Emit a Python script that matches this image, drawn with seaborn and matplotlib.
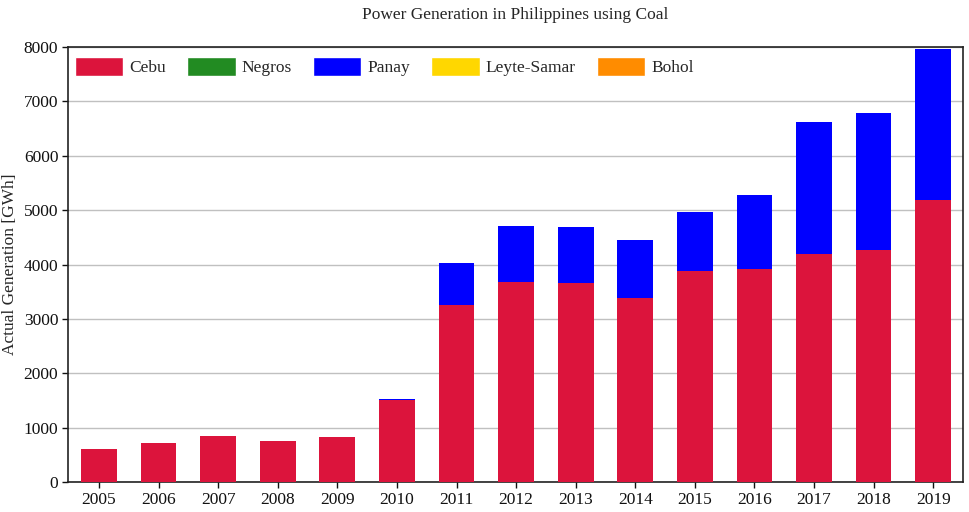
"""Stacked bar chart of coal power generation in the Philippines by grid."""

import matplotlib.pyplot as plt
import pandas as pd
import seaborn as sns
from matplotlib.patches import Patch

YEARS = [str(y) for y in range(2005, 2020)]
CEBU = [605, 717, 846, 754, 828, 1515, 3260, 3684, 3666, 3378, 3873, 3923, 4189, 4263, 5189]
NEGROS = [0] * 15
PANAY = [0, 0, 0, 0, 0, 15, 765, 1020, 1018, 1068, 1087, 1349, 2434, 2526, 2771]
LEYTE_SAMAR = [0] * 15
BOHOL = [0] * 15

SERIES = ["Cebu", "Negros", "Panay", "Leyte-Samar", "Bohol"]
COLORS = ["crimson", "forestgreen", "blue", "gold", "darkorange"]


def main() -> None:
    data = pd.DataFrame(
        {"Year": YEARS, "Cebu": CEBU, "Negros": NEGROS, "Panay": PANAY,
         "Leyte-Samar": LEYTE_SAMAR, "Bohol": BOHOL}
    )
    cumulative = data[SERIES].cumsum(axis=1)
    cumulative["Year"] = data["Year"]

    sns.set_theme(style="white")
    plt.rcParams["font.family"] = ["Liberation Serif", "DejaVu Serif"]

    fig, ax = plt.subplots(figsize=(9.69, 5.12), dpi=100)
    fig.subplots_adjust(left=0.0702, right=0.9938, top=0.908, bottom=0.0586)

    # draw the tallest stack first so lower segments sit on top of it
    for name, color in reversed(list(zip(SERIES, COLORS))):
        sns.barplot(data=cumulative, x="Year", y=name, color=color,
                    width=0.6, saturation=1, linewidth=0, ax=ax, zorder=3)

    ax.set_ylim(0, 8000)
    ax.set_xlim(-0.52, 14.5)
    ax.yaxis.grid(True, color="#c0c0c0", linewidth=1, zorder=0)
    ax.set_axisbelow(True)
    for spine in ax.spines.values():
        spine.set_color("#222222")
        spine.set_linewidth(1.2)
    ax.tick_params(axis="both", labelsize=12.5, colors="#111111",
                   length=4, width=1, left=True, bottom=True, pad=3)
    ax.set_xlabel("")
    ax.set_ylabel("Actual Generation [GWh]", fontsize=12.5, labelpad=4)
    ax.set_title("Power Generation in Philippines using Coal", fontsize=12.5, pad=20)

    handles = [Patch(facecolor=c, label=n) for n, c in zip(SERIES, COLORS)]
    ax.legend(handles=handles, loc="upper left", ncol=5, frameon=False,
              fontsize=12.5, handlelength=2.8, handleheight=1.35,
              handletextpad=0.35, columnspacing=1.2,
              borderaxespad=0.3, borderpad=0.25, bbox_to_anchor=(-0.003, 1.0))

    fig.savefig("out.png", dpi=100)
    plt.close(fig)


if __name__ == "__main__":
    main()
